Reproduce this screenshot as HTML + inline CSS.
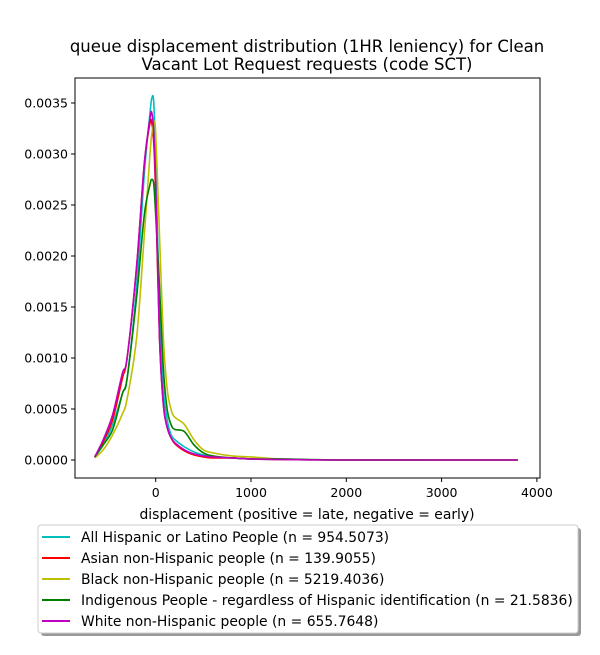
<!DOCTYPE html>
<html><head><meta charset="utf-8"><style>
body{margin:0;background:#fff;font-family:"Liberation Sans","DejaVu Sans",sans-serif;}
svg text{font-family:"DejaVu Sans","Liberation Sans",sans-serif;fill:#000;}
</style></head><body>
<svg id="chart" width="600" height="650" viewBox="0 0 600 650">
<rect width="600" height="650" fill="#fff"/>
<text x="307" y="52" font-size="16.5" text-anchor="middle">queue displacement distribution (1HR leniency) for Clean</text>
<text x="307" y="70" font-size="16.5" text-anchor="middle">Vacant Lot Request  requests (code SCT)</text>
<g id="series"></g>
<rect x="75" y="78" width="465" height="400" fill="none" stroke="#000" stroke-width="1"/>
<g id="xticks"></g><g id="yticks"></g>
<text x="307" y="519" font-size="13.9" text-anchor="middle">displacement (positive = late, negative = early)</text>
<rect x="41" y="528" width="540" height="108" rx="3" fill="#999"/>
<rect x="38" y="525" width="540" height="108" rx="3" fill="#fff" stroke="#ccc"/>
<g id="legend"></g>
</svg>
<script>
const xs=[-640,-550,-450,-350,-300,-200,-120,-60,-40,-20,0,40,80,120,160,200,300,400,500,600,800,1000,1300,1600,2000,3000,3800];
const cyanVals=[0.3,1.5,3.5,6.5,8,17,28,34,35.5,35,29,15,7,4,2.5,2,1.3,0.8,0.5,0.3,0.2,0.1,0.05,0.02,0,0,0];
const redVals=[0.3,1.8,4,8,10,19,29,33,33,31,26,12,5.5,3.2,2.2,1.6,0.9,0.5,0.3,0.2,0.2,0.1,0.05,0.02,0,0,0];
const yellowVals=[0.2,1,2.5,4.5,6,12,22,30,32,33,32,22,12,7,5,4.2,3.5,2,1,0.7,0.4,0.3,0.1,0.05,0,0,0];
const greenVals=[0.3,1.5,3,6.5,8,16,24,27,27.5,27,24,17,9,5,3.5,3,2.8,1.5,0.7,0.4,0.2,0.1,0.1,0.05,0,0,0];
const magentaVals=[0.3,2,4.5,8.5,10,19,29,33.5,34,32,27,12,5.5,3.2,2.2,1.7,1,0.6,0.4,0.3,0.2,0.1,0.05,0.02,0,0,0];
const seriesNames=["All Hispanic or Latino People (n = 954.5073)","Asian non-Hispanic people (n = 139.9055)","Black non-Hispanic people (n = 5219.4036)","Indigenous People - regardless of Hispanic identification (n = 21.5836)","White non-Hispanic people (n = 655.7648)"];
const xTicks=[0,1000,2000,3000,4000];
const yTicks=[0,0.0005,0.001,0.0015,0.002,0.0025,0.003,0.0035];
const yTickLabels=["0.0000","0.0005","0.0010","0.0015","0.0020","0.0025","0.0030","0.0035"];
const colors=["#00bfbf","#ff0000","#bfbf00","#008000","#bf00bf"];
const allVals=[cyanVals,redVals,yellowVals,greenVals,magentaVals];
const NS="http://www.w3.org/2000/svg";
function sx(v){return 155.7+v*0.0953;}
function sy(v){return 460-v*102000;}
function mk(t,a,p){const e=document.createElementNS(NS,t);for(const k in a)e.setAttribute(k,a[k]);p.appendChild(e);return e;}
function path(pts){let d="M"+pts[0][0]+","+pts[0][1];for(let i=0;i<pts.length-1;i++){const p0=pts[i-1]||pts[i],p1=pts[i],p2=pts[i+1],p3=pts[i+2]||p2;
d+=" C"+(p1[0]+(p2[0]-p0[0])/6)+","+(p1[1]+(p2[1]-p0[1])/6)+" "+(p2[0]-(p3[0]-p1[0])/6)+","+(p2[1]-(p3[1]-p1[1])/6)+" "+p2[0]+","+p2[1];}return d;}
const sg=document.getElementById('series');
allVals.forEach((vals,i)=>{const pts=xs.map((x,j)=>[sx(x),sy(vals[j]*1e-4)]);
const p=mk('path',{d:path(pts),fill:'none',stroke:colors[i],'stroke-width':1.6},sg);

});
const xg=document.getElementById('xticks');
xTicks.forEach(t=>{const x=sx(t);mk('line',{x1:x,x2:x,y1:478,y2:482,stroke:'#000'},xg);
const tx=mk('text',{x:x,y:497,'font-size':12.5,'text-anchor':'middle'},xg);tx.textContent=t;

});
const yg=document.getElementById('yticks');
yTicks.forEach((t,i)=>{const y=sy(t);mk('line',{x1:71,x2:75,y1:y,y2:y,stroke:'#000'},yg);
const tx=mk('text',{x:68,y:y+4.5,'font-size':12.5,'text-anchor':'end'},yg);tx.textContent=yTickLabels[i];

});
const lg=document.getElementById('legend');
seriesNames.forEach((n,i)=>{const y=537+i*21;mk('line',{x1:42,x2:70,y1:y,y2:y,stroke:colors[i],'stroke-width':2},lg);
const tx=mk('text',{x:81,y:y+5,'font-size':13.9},lg);tx.textContent=n;

});
</script>
</body></html>
